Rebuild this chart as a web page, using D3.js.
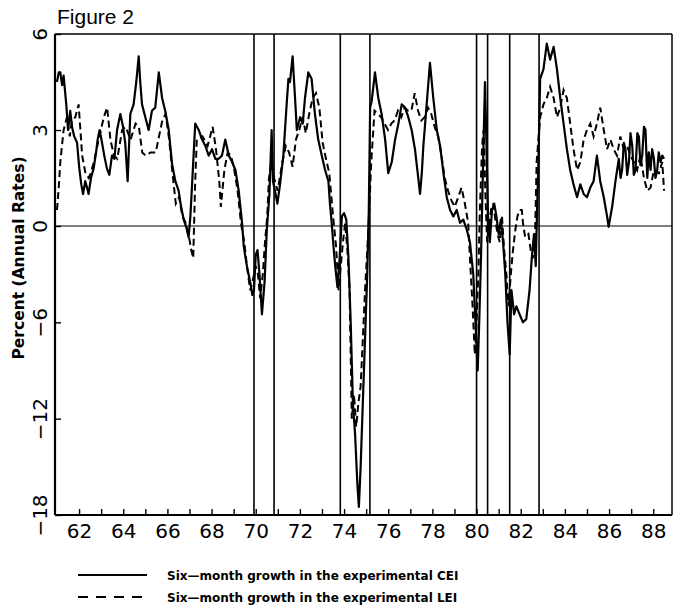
<!DOCTYPE html>
<html><head><meta charset="utf-8">
<script src="https://cdn.jsdelivr.net/npm/d3@7"></script>
<style>body{margin:0;background:#fff}svg{display:block}</style>
</head><body><svg id="c" width="673" height="615"></svg>
<script>
// ---- data ----
const ceiYears=[61.00,61.08,61.15,61.23,61.30,61.42,61.50,61.60,61.68,61.78,61.91,62.01,62.10,62.18,62.28,62.36,62.43,62.54,62.66,62.77,62.84,62.93,63.04,63.14,63.26,63.37,63.49,63.60,63.72,63.87,63.99,64.09,64.20,64.32,64.47,64.59,64.70,64.77,64.85,65.00,65.15,65.30,65.45,65.61,65.76,65.90,66.06,66.21,66.36,66.51,66.62,66.74,66.86,66.96,67.04,67.11,67.26,67.42,67.57,67.72,67.87,68.02,68.17,68.32,68.47,68.62,68.78,68.93,69.08,69.23,69.38,69.46,69.60,69.75,69.85,69.92,70.00,70.08,70.17,70.28,70.40,70.50,70.62,70.72,70.78,70.87,70.98,71.10,71.25,71.40,71.48,71.55,71.67,71.78,71.86,72.01,72.13,72.23,72.38,72.53,72.68,72.83,72.99,73.14,73.29,73.36,73.44,73.51,73.60,73.70,73.80,73.90,74.00,74.10,74.20,74.30,74.40,74.50,74.60,74.67,74.75,74.85,74.95,75.05,75.12,75.18,75.25,75.40,75.55,75.70,75.86,76.00,76.16,76.31,76.46,76.61,76.76,76.91,77.06,77.21,77.36,77.44,77.52,77.59,77.74,77.89,78.04,78.20,78.35,78.50,78.65,78.80,78.95,79.10,79.25,79.40,79.56,79.70,79.85,79.95,80.05,80.12,80.20,80.28,80.38,80.45,80.52,80.60,80.70,80.80,80.90,81.00,81.10,81.20,81.30,81.40,81.50,81.58,81.70,81.80,81.95,82.10,82.25,82.40,82.50,82.60,82.68,82.74,82.80,82.88,83.03,83.18,83.33,83.49,83.64,83.79,83.94,84.09,84.24,84.39,84.55,84.70,84.85,85.00,85.15,85.30,85.45,85.60,85.76,85.91,85.98,86.14,86.29,86.44,86.52,86.59,86.67,86.74,86.82,86.90,86.97,87.05,87.12,87.20,87.28,87.35,87.42,87.50,87.58,87.65,87.73,87.80,87.88,87.95,88.03,88.10,88.18,88.25,88.33,88.41,88.49];
const ceiValues=[4.5,4.8,4.8,4.4,4.7,3.8,3.0,3.6,3.1,2.8,2.6,1.8,1.3,1.0,1.4,1.2,1.0,1.5,1.8,2.3,2.7,3.0,2.6,2.2,1.8,1.6,2.2,2.1,3.0,3.5,3.1,2.6,1.4,3.5,3.8,4.5,5.3,4.5,3.8,3.4,3.0,3.6,3.7,4.8,4.0,3.6,3.0,1.95,1.4,1.1,0.6,0.2,-0.1,-0.7,0.3,1.2,3.2,3.0,2.7,2.5,2.2,2.4,2.1,2.1,2.2,2.7,2.2,2.0,1.75,1.1,0.1,-1.3,-2.5,-3.5,-4.3,-4.0,-1.8,-1.5,-3.0,-5.5,-3.5,-0.3,1.0,3.0,1.4,1.1,0.7,1.3,2.2,3.8,4.6,4.5,5.3,4.0,3.0,3.4,3.2,4.0,4.8,4.6,3.5,2.7,2.2,1.75,1.4,0.7,0.1,-1.1,-2.5,-3.8,-2.0,0.3,0.4,0.2,-2.0,-6,-11,-13,-16,-17.5,-15,-11,-7,-3,0.5,3.7,3.9,4.8,4.0,3.5,2.7,1.65,2.0,2.7,3.2,3.8,3.7,3.4,3.0,2.4,1.5,1.0,1.65,2.5,3.8,5.1,4.0,3.0,2.5,1.65,0.9,0.5,0.3,0.5,0.1,0.2,-0.25,-1.0,-3,-6,-9,-6,-2,1.5,4.5,2.5,0.3,-1.0,0.5,0.7,0.3,-0.5,0.2,-1.0,-3,-6,-8,-4,-5.5,-5,-5.5,-6,-5.8,-4,-2,-0.5,-2.5,0.5,2.0,4.6,4.9,5.7,5.2,5.6,4.9,4.0,3.2,2.4,1.75,1.3,0.9,1.3,1.0,0.9,1.2,1.4,2.2,1.4,0.9,0.3,-0.05,0.6,1.4,2.1,1.5,1.75,2.6,2.4,1.6,2.0,2.9,2.5,1.6,1.75,2.9,2.8,1.9,2.2,3.1,3.0,1.5,2.3,1.75,2.4,2.1,1.5,1.75,2.3,2.0,2.2,2.1];

const leiYears=[61.00,61.08,61.15,61.30,61.45,61.58,61.68,61.83,61.98,62.06,62.14,62.29,62.44,62.55,62.67,62.89,63.12,63.27,63.42,63.58,63.73,63.95,64.11,64.33,64.56,64.71,64.86,65.02,65.24,65.47,65.62,65.77,65.92,66.08,66.23,66.38,66.53,66.68,66.83,66.98,67.08,67.17,67.25,67.33,67.59,67.82,68.05,68.20,68.35,68.42,68.58,68.73,68.88,69.03,69.18,69.33,69.49,69.60,69.75,69.85,70.00,70.10,70.20,70.32,70.42,70.52,70.60,70.71,70.83,70.99,71.21,71.36,71.51,71.67,71.82,71.97,72.12,72.27,72.42,72.58,72.73,72.88,73.03,73.18,73.33,73.49,73.64,73.75,73.85,73.95,74.05,74.15,74.25,74.35,74.45,74.55,74.65,74.75,74.85,74.95,75.05,75.10,75.23,75.38,75.53,75.68,75.83,75.99,76.14,76.29,76.44,76.59,76.74,76.90,77.05,77.20,77.35,77.50,77.65,77.80,77.95,78.10,78.26,78.41,78.56,78.71,78.86,79.01,79.17,79.32,79.47,79.62,79.72,79.82,79.92,80.00,80.08,80.15,80.25,80.32,80.40,80.48,80.55,80.65,80.75,80.85,80.95,81.05,81.15,81.25,81.35,81.45,81.55,81.65,81.75,81.85,81.95,82.05,82.10,82.20,82.35,82.45,82.55,82.65,82.72,82.88,83.03,83.18,83.33,83.49,83.64,83.79,83.94,84.09,84.24,84.39,84.55,84.70,84.85,85.00,85.15,85.30,85.45,85.60,85.76,85.91,86.06,86.21,86.36,86.51,86.67,86.82,86.97,87.12,87.27,87.42,87.58,87.73,87.88,88.03,88.26,88.41,88.49];
const leiValues=[0.5,1.2,2.0,3.0,3.4,2.8,3.3,3.4,3.8,3.0,2.2,1.65,1.5,1.7,2.0,2.7,3.4,3.7,2.7,2.2,2.1,3.0,3.1,2.7,3.2,3.1,2.3,2.2,2.3,2.3,2.8,3.3,3.5,2.7,1.65,0.7,0.9,0.3,0.1,-0.7,-1.5,-2.0,1.2,2.7,2.8,2.5,3.1,2.4,1.4,0.6,1.75,2.3,2.2,1.75,1.1,0.1,-1.1,-2.5,-4.0,-3.5,-2.5,-3.0,-4.5,-3.0,-1.0,0.3,1.5,2.0,1.5,1.1,2.0,2.5,2.3,1.85,2.7,3.0,3.4,2.9,3.5,4.0,4.15,3.7,2.6,2.1,1.65,0.4,-1.3,-4.0,-2.5,-1.0,0.1,-1.5,-4,-12,-10.5,-12.5,-11,-10,-7,-4,-1.5,-0.3,2.0,3.6,3.5,3.4,3.2,3.0,3.2,3.3,3.6,3.4,3.7,3.6,3.6,4.15,3.6,3.3,3.4,3.7,3.5,3.1,2.8,2.2,1.5,1.1,0.8,0.6,0.9,1.2,0.7,0.1,-2.5,-5,-8,-6,-3,0.5,2.5,3.0,1.0,-1.0,-0.5,0.5,0.7,0.2,-0.5,-1.0,0.3,-1.5,-3.0,-5.0,-3.0,-1.5,-0.3,0.3,0.5,0.5,0.1,-0.7,-0.5,-1.5,-2.0,-0.5,2.0,3.4,3.8,4.0,4.35,4.0,3.4,3.7,4.25,4.0,3.2,2.4,1.75,2.0,2.7,3.0,3.2,2.8,3.2,3.7,3.0,2.4,2.7,2.4,2.2,2.8,2.4,2.5,2.2,2.0,1.75,2.2,1.5,1.1,1.2,1.75,1.65,2.0,1.1];

const yTickValues=[6,3,0,-6,-12,-18];
const yTickLabels=["6","3","0","\u22126","\u221212","\u221218"];
const xTickYears=d3.range(62,89);
const xLabelYears=[62,64,66,68,70,72,74,76,78,80,82,84,86,88];
const recessionDates=[69.92,70.83,73.83,75.17,80.0,80.5,81.5,82.83];
const titleText="Figure 2";
const yAxisTitle="Percent (Annual Rates)";
const legendLabels=["Six\u2014month growth in the experimental CEI","Six\u2014month growth in the experimental LEI"];

// ---- layout ----
const L=55,R=672,T=34,B=515;
const svg=d3.select("#c");
const x=d3.scaleLinear().domain([60.91,88.85]).range([L,R]);
const y=d3.scaleLinear().domain([-18,0,6]).range([B,226,T]);
const FONT="'DejaVu Sans', sans-serif";

svg.append("defs").append("clipPath").attr("id","pc")
  .append("rect").attr("x",L).attr("y",T).attr("width",R-L).attr("height",B-T);

// frame
svg.append("line").attr("x1",L).attr("x2",R).attr("y1",T).attr("y2",T).attr("stroke","#000").attr("stroke-width",1.5);
svg.append("line").attr("x1",R).attr("x2",R).attr("y1",T).attr("y2",B).attr("stroke","#000").attr("stroke-width",1.5);
// zero line
svg.append("line").attr("x1",L).attr("x2",R).attr("y1",y(0)).attr("y2",y(0)).attr("stroke","#000").attr("stroke-width",1.2);
// recession lines
svg.append("g").selectAll("line").data(recessionDates).join("line")
  .attr("x1",d=>x(d)).attr("x2",d=>x(d)).attr("y1",T).attr("y2",B)
  .attr("stroke","#000").attr("stroke-width",1.6);

const line=d3.line().x(d=>x(d[0])).y(d=>y(d[1]));
const g=svg.append("g").attr("clip-path","url(#pc)");
g.append("path").datum(leiYears.map((t,i)=>[t,leiValues[i]])).attr("d",line)
  .attr("fill","none").attr("stroke","#000").attr("stroke-width",2).attr("stroke-dasharray","7,4");
g.append("path").datum(ceiYears.map((t,i)=>[t,ceiValues[i]])).attr("d",line)
  .attr("fill","none").attr("stroke","#000").attr("stroke-width",2.2).attr("stroke-linejoin","round");

// x axis
const xa=svg.append("g").attr("transform",`translate(0,${B})`)
  .call(d3.axisBottom(x).tickValues(xTickYears).tickSize(-6).tickPadding(9)
    .tickFormat(d=>xLabelYears.includes(d)?String(d):""));
xa.select(".domain").attr("stroke-width",2).attr("d",`M${L},0H${R}`);
xa.selectAll(".tick line").attr("stroke-width",1.4);
xa.selectAll("text").attr("font-family",FONT).attr("font-size",20).attr("fill","#000");

// y axis
const ya=svg.append("g").attr("transform",`translate(${L},0)`)
  .call(d3.axisLeft(y).tickValues(yTickValues).tickSize(-6)
    .tickFormat((d,i)=>yTickLabels[i]));
ya.select(".domain").attr("stroke-width",2.2).attr("d",`M0,${T}V${B}`);
ya.selectAll(".tick line").attr("stroke-width",1.4);
ya.selectAll("text").attr("font-family",FONT).attr("font-size",20).attr("fill","#000")
  .attr("transform","rotate(-90)").attr("x",0).attr("y",-8).attr("dy",0).attr("text-anchor","middle");

// titles
svg.append("text").attr("x",57).attr("y",24).attr("font-family","'Liberation Sans', Arial, sans-serif")
  .attr("font-size",21).text(titleText);
svg.append("text").attr("transform","translate(24,258) rotate(-90)").attr("text-anchor","middle")
  .attr("font-family",FONT).attr("font-weight","bold").attr("font-size",15.5).text(yAxisTitle);

// legend
const leg=svg.append("g");
[0,1].forEach(i=>{
  const yy=575+i*22;
  leg.append("line").attr("x1",78).attr("x2",147).attr("y1",yy).attr("y2",yy)
    .attr("stroke","#000").attr("stroke-width",2).attr("stroke-dasharray",i?"10,8":null);
  leg.append("text").attr("x",167).attr("y",yy+5).attr("font-family",FONT).attr("font-weight","bold")
    .attr("font-size",12).text(legendLabels[i]);
});
</script></body></html>
